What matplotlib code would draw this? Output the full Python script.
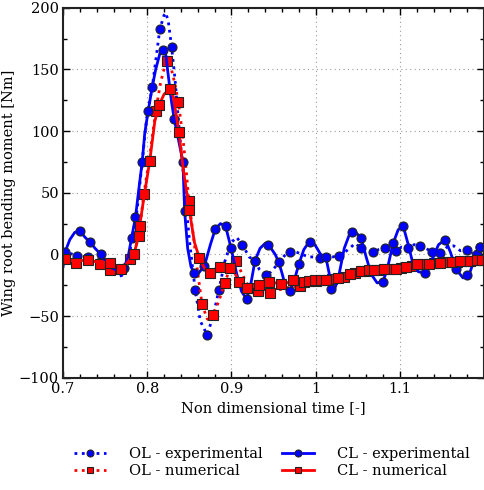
import matplotlib
matplotlib.use('Agg')
from matplotlib import pyplot as plt
from matplotlib.lines import Line2D
from matplotlib.ticker import MultipleLocator

# OL - experimental (dotted blue), curve and marker points
ol_exp_t = [0.700, 0.708, 0.716, 0.723, 0.730, 0.737, 0.744, 0.751, 0.758, 0.764, 0.770, 0.775,
            0.779, 0.782, 0.788, 0.794, 0.799, 0.806, 0.811, 0.815, 0.820, 0.822, 0.825, 0.829,
            0.833, 0.838, 0.844, 0.850, 0.857, 0.863, 0.871, 0.878, 0.885, 0.892, 0.899, 0.906,
            0.913, 0.921, 0.928, 0.933, 0.941, 0.947, 0.956, 0.963, 0.970, 0.977, 0.984, 0.992,
            0.999, 1.005, 1.012, 1.020, 1.028, 1.035, 1.042, 1.047, 1.054, 1.061, 1.068, 1.075,
            1.082, 1.089, 1.096, 1.102, 1.110, 1.117, 1.124, 1.131, 1.138, 1.148, 1.156, 1.164,
            1.172, 1.180, 1.186, 1.192, 1.195, 1.200]
ol_exp_m = [3, 1, -1, 0, -2, -2, -6, -8, -12, -18, -17, -8,
            0, 13, 36, 75, 109, 136, 162, 183, 194, 196, 189, 168,
            142, 101, 57, 12, -29, -54, -65, -51, -29, -6, 9, 14,
            8, -2, -5, -12, -17, -14, -7, -1, 2, 2, 0, -2,
            -2, -3, -2, -2, -1, 2, 6, 9, 5, 4, 2, 4,
            5, 9, 3, 6, 5, 8, 7, 5, 2, 1, 6, 7,
            3, 4, 1, 0, 6, 9]
ol_exp_mk_t = [0.716, 0.730, 0.744, 0.758, 0.782, 0.794, 0.806, 0.815, 0.829, 0.857, 0.871, 0.885,
               0.913, 0.928, 0.941, 0.970, 1.005, 1.028, 1.054, 1.068, 1.082, 1.096, 1.110, 1.124,
               1.138, 1.148, 1.180, 1.192, 1.195]
ol_exp_mk_m = [-1, -2, -6, -12, 13, 75, 136, 183, 168, -29, -65, -29,
               8, -5, -17, 2, -3, -1, 5, 2, 5, 3, 5, 7,
               2, 1, 4, 0, 6]

# CL - experimental (solid blue)
cl_exp_t = [0.700, 0.7024, 0.708, 0.714, 0.720, 0.726, 0.732, 0.738, 0.745, 0.751, 0.758, 0.765,
            0.772, 0.777, 0.781, 0.786, 0.790, 0.794, 0.797, 0.801, 0.806, 0.810, 0.815, 0.819,
            0.822, 0.825, 0.829, 0.832, 0.838, 0.8424, 0.8444, 0.848, 0.852, 0.856, 0.860, 0.868,
            0.875, 0.881, 0.887, 0.893, 0.8996, 0.906, 0.912, 0.918, 0.923, 0.928, 0.934, 0.940,
            0.945, 0.952, 0.956, 0.960, 0.965, 0.969, 0.975, 0.980, 0.986, 0.992, 0.999, 1.006,
            1.012, 1.016, 1.018, 1.023, 1.027, 1.034, 1.040, 1.043, 1.049, 1.054, 1.060, 1.066,
            1.073, 1.080, 1.085, 1.092, 1.098, 1.104, 1.110, 1.115, 1.122, 1.130, 1.137, 1.146,
            1.154, 1.160, 1.167, 1.175, 1.182, 1.189, 1.195, 1.200]
cl_exp_m = [-10, 2, 12, 18, 19, 14, 10, 5, 0, -6, -11, -13,
            -11, -3, 12, 30, 53, 75, 98, 116, 136, 150, 163, 166,
            162, 145, 123, 110, 90, 75, 35, 5, -10, -15, -16, -9,
            8, 21, 25, 23, 5, -15, -30, -36, -24, -5, 5, 9,
            7, 0, -6, -15, -28, -30, -20, -8, 4, 10, 8, 0,
            -2, -15, -28, -27, -19, 5, 16, 18, 17, 13, -2, -16,
            -23, -22, -12, 9, 20, 23, 8, -6, -14, -15, -6, 8,
            12, 2, -12, -19, -17, -3, 6, 7]
cl_exp_mk_t = [0.7024, 0.720, 0.732, 0.745, 0.772, 0.786, 0.801, 0.819, 0.832, 0.8424, 0.8444, 0.856,
               0.868, 0.881, 0.893, 0.8996, 0.918, 0.928, 0.943, 0.956, 0.969, 0.980, 0.993, 1.012,
               1.018, 1.027, 1.043, 1.054, 1.080, 1.092, 1.104, 1.130, 1.154, 1.167, 1.180, 1.195]
cl_exp_mk_m = [2, 19, 10, 0, -11, 30, 116, 166, 110, 75, 35, -15,
               -9, 21, 23, 5, -36, -5, 8, -6, -30, -8, 10, -2,
               -28, -19, 18, 13, -22, 9, 23, -15, 12, -12, -17, 6]

# OL - numerical (dotted red)
ol_num_t = [0.700, 0.7154, 0.730, 0.7438, 0.7556, 0.766, 0.774, 0.7793, 0.785, 0.790, 0.796, 0.803,
            0.810, 0.816, 0.821, 0.824, 0.828, 0.833, 0.837, 0.842, 0.846, 0.8495, 0.855, 0.860,
            0.865, 0.871, 0.875, 0.878, 0.885, 0.892, 0.899, 0.906, 0.912, 0.921, 0.926, 0.932,
            0.940, 0.946, 0.955, 0.965, 0.975, 0.981, 0.990, 1.000, 1.010, 1.020, 1.034, 1.047,
            1.060, 1.075, 1.088, 1.101, 1.114, 1.127, 1.141, 1.155, 1.168, 1.180, 1.193, 1.200]
ol_num_m = [-3, -6.7, -4, -8.1, -12.2, -9, -8, -3.5, 3, 15, 49, 80,
            116, 140, 153, 157, 152, 138, 123.5, 97, 70, 43, 14, -15,
            -40, -52, -54, -49, -38, -23, -10, -5, -15, -27, -28.5, -30,
            -30.5, -31, -29, -27, -26, -25.7, -23, -21.5, -20.5, -20, -18, -15,
            -13, -12.3, -11.8, -11, -9, -8, -7.3, -6.5, -6, -5.2, -4.5, -4.2]
ol_num_mk_t = [0.7154, 0.7438, 0.7556, 0.7793, 0.790, 0.796, 0.810, 0.824, 0.837, 0.8495, 0.865, 0.878,
               0.892, 0.906, 0.921, 0.932, 0.946, 0.981, 1.000, 1.020, 1.034, 1.047, 1.060, 1.075,
               1.088, 1.101, 1.114, 1.127, 1.141, 1.155, 1.168, 1.180, 1.193]
ol_num_mk_m = [-6.7, -8.1, -12.2, -3.5, 15, 49, 116, 157, 123.5, 43, -40, -49,
               -23, -5, -27, -30, -31, -25.7, -21.5, -20, -18, -15, -13, -12.3,
               -11.8, -11, -9, -8, -7.3, -6.5, -6, -5.2, -4.5]

# CL - numerical (solid red)
cl_num_t = [0.700, 0.7024, 0.710, 0.720, 0.730, 0.740, 0.7556, 0.763, 0.7686, 0.774, 0.779, 0.784,
            0.788, 0.791, 0.796, 0.803, 0.809, 0.814, 0.820, 0.8266, 0.831, 0.8376, 0.843, 0.850,
            0.856, 0.862, 0.868, 0.874, 0.880, 0.886, 0.892, 0.898, 0.904, 0.909, 0.915, 0.919,
            0.925, 0.933, 0.940, 0.945, 0.952, 0.9592, 0.966, 0.9734, 0.980, 0.9864, 0.9923, 0.9994,
            1.0061, 1.0121, 1.020, 1.027, 1.0404, 1.0535, 1.0633, 1.0692, 1.0811, 1.095, 1.1068, 1.1205,
            1.1343, 1.1482, 1.162, 1.1718, 1.1837, 1.1915, 1.1975, 1.200]
cl_num_m = [-4, -4, -5, -5, -4.6, -6, -6.7, -9, -11.6, -9, -4, 0,
            10, 23, 46, 76, 108, 121, 130, 134, 128, 99, 68, 36,
            10, -3, -11, -15, -12, -10, -9, -11, -15, -22, -26, -27,
            -26, -25, -23, -22, -23, -24.3, -23, -21, -22, -22, -21.6, -20.8,
            -20.3, -20.3, -19.5, -18.9, -16.2, -13.5, -12.7, -12.7, -11.6, -11.6, -10, -8.1,
            -7.6, -6.8, -6.2, -5.4, -4.9, -4.6, -4.1, -4]
cl_num_mk_t = [0.7024, 0.730, 0.7556, 0.7686, 0.784, 0.791, 0.803, 0.814, 0.8266, 0.8376, 0.850, 0.862,
               0.874, 0.886, 0.898, 0.909, 0.919, 0.933, 0.945, 0.9592, 0.9734, 0.9864, 0.9923, 0.9994,
               1.0061, 1.0121, 1.027, 1.0404, 1.0535, 1.0633, 1.0692, 1.0811, 1.095, 1.1068, 1.1205, 1.1343,
               1.1482, 1.162, 1.1718, 1.1837, 1.1915, 1.1975]
cl_num_mk_m = [-4, -4.6, -6.7, -11.6, 0, 23, 76, 121, 134, 99, 36, -3,
               -15, -10, -11, -22, -27, -25, -22, -24.3, -21, -22, -21.6, -20.8,
               -20.3, -20.3, -18.9, -16.2, -13.5, -12.7, -12.7, -11.6, -11.6, -10, -8.1, -7.6,
               -6.8, -6.2, -5.4, -4.9, -4.6, -4.1]

labels = ['OL - experimental', 'OL - numerical', 'CL - experimental', 'CL - numerical']
x_ticks = [0.7, 0.8, 0.9, 1.0, 1.1]
x_tick_labels = ['0.7', '0.8', '0.9', '1', '1.1']
y_ticks = [-100, -50, 0, 50, 100, 150, 200]

plt.rcParams['font.family'] = ['DejaVu Serif']
plt.rcParams['font.size'] = 10.5
plt.rcParams['axes.unicode_minus'] = True

blue = '#0000ff'
red = '#ff0000'
edge = '#222222'

fig = plt.figure(figsize=(4.85, 4.9), dpi=100)
ax = fig.add_axes([0.130, 0.229, 0.868, 0.755])

series = [
    (ol_exp_t, ol_exp_m, ol_exp_mk_t, ol_exp_mk_m, blue, ':', 'o'),
    (ol_num_t, ol_num_m, ol_num_mk_t, ol_num_mk_m, red, ':', 's'),
    (cl_exp_t, cl_exp_m, cl_exp_mk_t, cl_exp_mk_m, blue, '-', 'o'),
    (cl_num_t, cl_num_m, cl_num_mk_t, cl_num_mk_m, red, '-', 's'),
]

handles = []
for (t, m, mt, mm, c, ls, mk), lab in zip(series, labels):
    ax.plot(t, m, color=c, ls=ls, lw=2.0)
    ax.plot(mt, mm, ls='none', marker=mk, ms=6.5, mfc=c, mec=edge, mew=0.8)
    handles.append(Line2D([], [], color=c, ls=ls, lw=2.0, marker=mk, ms=5,
                          mfc=c, mec=edge, mew=0.8))

ax.set_xlim(0.7, 1.2)
ax.set_ylim(-100, 200)
ax.set_xticks(x_ticks)
ax.set_xticklabels(x_tick_labels)
ax.set_yticks(y_ticks)
ax.xaxis.set_minor_locator(MultipleLocator(0.02))
ax.yaxis.set_minor_locator(MultipleLocator(25))
ax.tick_params(which='both', direction='in', top=True, right=True, width=1.0)
ax.tick_params(which='major', length=5, pad=3)
ax.tick_params(which='minor', length=3)
for s in ax.spines.values():
    s.set_linewidth(1.5)
    s.set_color('#222222')
ax.grid(True, which='major', ls=(0, (1, 3)), color='#999999', lw=0.8)

ax.set_xlabel('Non dimensional time [-]', labelpad=4)
ax.set_ylabel('Wing root bending moment [Nm]', labelpad=2)

# legend below the axes, two columns
fig.legend(handles, labels, ncol=2, frameon=False, loc='center',
           bbox_to_anchor=(0.56, 0.056), handlelength=2.2, handletextpad=1.6,
           columnspacing=1.3, labelspacing=0.15)

fig.savefig('out.png', dpi=100)
